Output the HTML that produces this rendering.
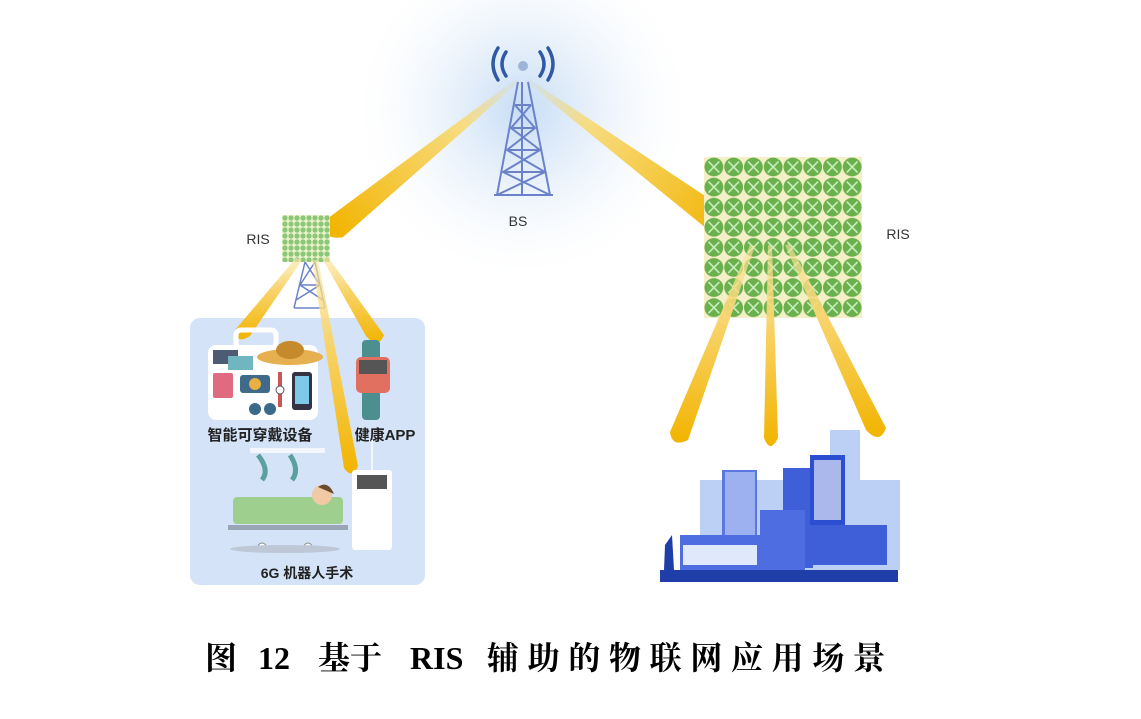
<!DOCTYPE html>
<html><head><meta charset="utf-8"><style>
html,body{margin:0;padding:0;background:#fff;}
svg{display:block;}
</style></head><body>
<svg width="1141" height="719" viewBox="0 0 1141 719" xmlns="http://www.w3.org/2000/svg">
<defs>
<radialGradient id="glow" cx="523" cy="110" r="175" gradientUnits="userSpaceOnUse">
<stop offset="0" stop-color="#bcd6f3" stop-opacity="0.85"/>
<stop offset="0.5" stop-color="#e0ecf9" stop-opacity="0.55"/>
<stop offset="1" stop-color="#fff" stop-opacity="0"/>
</radialGradient>
<linearGradient id="beamL" x1="520" y1="80" x2="330" y2="232" gradientUnits="userSpaceOnUse">
<stop offset="0" stop-color="#cfe2f7"/><stop offset="0.3" stop-color="#f7dc80"/><stop offset="1" stop-color="#f2b400"/>
</linearGradient>
<linearGradient id="beamR" x1="525" y1="80" x2="735" y2="232" gradientUnits="userSpaceOnUse">
<stop offset="0" stop-color="#cfe2f7"/><stop offset="0.3" stop-color="#f7dc80"/><stop offset="1" stop-color="#f2b400"/>
</linearGradient>
<linearGradient id="down" x1="0" y1="0" x2="0" y2="1">
<stop offset="0" stop-color="#fbe6a0" stop-opacity="0.6"/><stop offset="0.4" stop-color="#f8d36a"/><stop offset="1" stop-color="#f2b400"/>
</linearGradient>
<pattern id="ris" x="704" y="157" width="19.75" height="20.1" patternUnits="userSpaceOnUse">
<rect width="19.75" height="20.1" fill="#f3efc6"/>
<circle cx="9.9" cy="10" r="9.4" fill="#6ab04c"/>
<path d="M4.5 4.5L15.3 15.5M15.3 4.5L4.5 15.5" stroke="#c9f0c0" stroke-width="1.6"/>
</pattern>
<pattern id="ris2" x="282" y="215" width="6" height="6" patternUnits="userSpaceOnUse">
<rect width="6" height="6" fill="#e9f2c8"/>
<circle cx="3" cy="3" r="2.6" fill="#8cc67a"/>
</pattern>
</defs>

<circle cx="523" cy="110" r="175" fill="url(#glow)"/>

<!-- BS beams -->
<path d="M516.7 78.4 L327.4 218.6 Q318 240 342.6 237.4 L519.3 81.6 Z" fill="url(#beamL)"/>
<path d="M525.8 81.6 L719.7 239.2 Q743 242 736.3 216.8 L528.2 78.4 Z" fill="url(#beamR)"/>

<!-- BS tower -->
<g stroke="#6b82c8" stroke-width="2" fill="none">
<path d="M518 82 L497 195 M528 82 L550 195 M494 195 L553 195"/>
<path d="M522 82 L522 195"/>
<path d="M515 105 L531 105 M511 128 L535 128 M507 150 L540 150 M503 172 L545 172"/>
<path d="M515 105 L535 128 L507 150 L545 172 L497 195 M531 105 L511 128 L540 150 L503 172 L550 195"/>
</g>
<circle cx="523" cy="66" r="5" fill="#9fb3d8"/>
<g stroke="#2f5aa3" stroke-width="3.5" fill="none" stroke-linecap="round">
<path d="M506 52 Q498 64 506 76"/><path d="M498 48 Q488 64 498 80"/>
<path d="M540 52 Q548 64 540 76"/><path d="M548 48 Q558 64 548 80"/>
</g>
<text x="518" y="226" font-family="Liberation Sans, sans-serif" font-size="14" fill="#333" text-anchor="middle">BS</text>

<!-- small RIS -->
<rect x="282" y="215" width="48" height="47" fill="url(#ris2)"/>
<text x="258" y="244" font-family="Liberation Sans, sans-serif" font-size="14" fill="#333" text-anchor="middle">RIS</text>
<g stroke="#6b82c8" stroke-width="1.5" fill="none">
<path d="M305 262 L294 308 M315 262 L325 308 M300 285 L320 285 M294 308 L325 308 M305 262 L320 285 L296 300 M315 262 L300 285 L323 300"/>
</g>

<!-- blue box -->
<rect x="190" y="318" width="235" height="267" rx="10" fill="#d4e3f7"/>

<!-- small beams -->
<path d="M296 258 L235 330 Q236 345 250 336 L302 260 Z" fill="url(#down)"/>
<path d="M312 260 L344 468 Q352 480 358 466 L318 260 Z" fill="url(#down)"/>
<path d="M322 258 L366 336 Q378 350 384 335 L328 257 Z" fill="url(#down)"/>

<!-- wearables -->
<rect x="208" y="345" width="110" height="75" rx="8" fill="#fff"/>
<rect x="236" y="330" width="40" height="18" rx="5" fill="none" stroke="#fff" stroke-width="5"/>
<rect x="213" y="350" width="25" height="14" fill="#4d5b74"/>
<rect x="228" y="356" width="25" height="14" fill="#6fb6c0"/>
<ellipse cx="290" cy="357" rx="33" ry="8" fill="#e6b050"/>
<ellipse cx="290" cy="350" rx="14" ry="9" fill="#c58a2c"/>
<rect x="213" y="373" width="20" height="25" rx="2" fill="#e06a80"/>
<rect x="240" y="375" width="30" height="18" rx="3" fill="#3f6a8a"/>
<circle cx="255" cy="384" r="6" fill="#e8b040"/>
<rect x="278" y="372" width="4" height="35" fill="#c55"/>
<circle cx="280" cy="390" r="4" fill="#fff" stroke="#555"/>
<rect x="292" y="372" width="20" height="38" rx="3" fill="#334"/>
<rect x="295" y="376" width="14" height="28" fill="#7ec8e8"/>
<circle cx="255" cy="409" r="6" fill="#3a6a8a"/><circle cx="270" cy="409" r="6" fill="#3a6a8a"/>
<!-- watch -->
<rect x="362" y="340" width="18" height="80" rx="4" fill="#4d8f8f"/>
<rect x="356" y="357" width="34" height="36" rx="5" fill="#e27060"/>
<rect x="359" y="360" width="28" height="14" fill="#555"/>
<text x="260" y="440" font-family="Liberation Sans, 'Noto Sans CJK SC', sans-serif" font-size="15" font-weight="bold" fill="#222" text-anchor="middle">智能可穿戴设备</text>
<text x="385" y="440" font-family="Liberation Sans, 'Noto Sans CJK SC', sans-serif" font-size="15" font-weight="bold" fill="#222" text-anchor="middle">健康APP</text>
<!-- surgery -->
<rect x="250" y="448" width="75" height="5" fill="#f3f7fd"/>
<path d="M258 455 Q270 470 262 480 M290 455 Q300 470 292 480" stroke="#5aa0a0" stroke-width="5" fill="none"/>
<rect x="233" y="497" width="110" height="27" rx="4" fill="#9fcf8f"/>
<circle cx="322" cy="495" r="10" fill="#f2c9a5"/>
<path d="M318 487 Q328 480 334 494" fill="#6b4b2b"/>
<rect x="228" y="525" width="120" height="5" fill="#9aa5b5"/>
<circle cx="262" cy="547" r="4" fill="#fff" stroke="#888"/><circle cx="308" cy="547" r="4" fill="#fff" stroke="#888"/>
<ellipse cx="285" cy="549" rx="55" ry="4" fill="#bdc7d6"/>
<rect x="352" y="470" width="40" height="80" rx="3" fill="#fff"/>
<rect x="357" y="475" width="30" height="14" fill="#555"/>
<line x1="372" y1="440" x2="372" y2="470" stroke="#fff" stroke-width="1.5"/>
<text x="307" y="578" font-family="Liberation Sans, 'Noto Sans CJK SC', sans-serif" font-size="14" font-weight="bold" fill="#222" text-anchor="middle">6G 机器人手术</text>

<!-- big RIS -->
<rect x="704" y="157" width="158" height="161" fill="url(#ris)"/>
<text x="898" y="239" font-family="Liberation Sans, sans-serif" font-size="14" fill="#333" text-anchor="middle">RIS</text>
<!-- down beams -->
<path d="M750 245 L670 432 Q672 448 688 440 L755 246 Z" fill="url(#down)"/>
<path d="M768 245 L764 438 Q770 454 778 438 L772 245 Z" fill="url(#down)"/>
<path d="M785 245 L866 430 Q880 445 886 428 L790 244 Z" fill="url(#down)"/>

<!-- city -->
<rect x="830" y="430" width="30" height="140" fill="#bcd0f5"/>
<rect x="700" y="480" width="200" height="90" fill="#bcd0f5"/>
<rect x="722" y="470" width="35" height="100" fill="#5a78e0"/>
<rect x="725" y="472" width="30" height="96" fill="#9db1f0"/>
<rect x="783" y="468" width="30" height="100" fill="#3f5fd8"/>
<rect x="810" y="455" width="35" height="70" fill="#2b4fd0"/>
<rect x="814" y="460" width="27" height="60" fill="#fff" opacity="0.6"/>
<rect x="760" y="510" width="45" height="60" fill="#4d6de0"/>
<rect x="812" y="525" width="75" height="40" fill="#3f5fd8"/>
<rect x="680" y="535" width="80" height="35" fill="#4d6de0"/>
<rect x="683" y="545" width="74" height="20" fill="#e0e8fb"/>
<rect x="660" y="570" width="238" height="12" fill="#1f3ea8"/>
<path d="M665 545 L672 535 L674 570 L664 570 Z" fill="#1f3ea8"/>

<!-- caption -->
<text x="205" y="669" font-family="'Noto Serif CJK SC', serif" font-size="32" font-weight="bold" fill="#000">图</text>
<text x="258" y="669" font-family="'Liberation Serif', serif" font-size="32" font-weight="bold" fill="#000">12</text>
<text x="318" y="669" font-family="'Noto Serif CJK SC', serif" font-size="32" font-weight="bold" fill="#000">基于</text>
<text x="410" y="669" font-family="'Liberation Serif', serif" font-size="32" font-weight="bold" fill="#000">RIS</text>
<text x="487" y="669" font-family="'Noto Serif CJK SC', serif" font-size="32" font-weight="bold" fill="#000" textLength="398" lengthAdjust="spacing">辅助的物联网应用场景</text>
</svg>
</body></html>
